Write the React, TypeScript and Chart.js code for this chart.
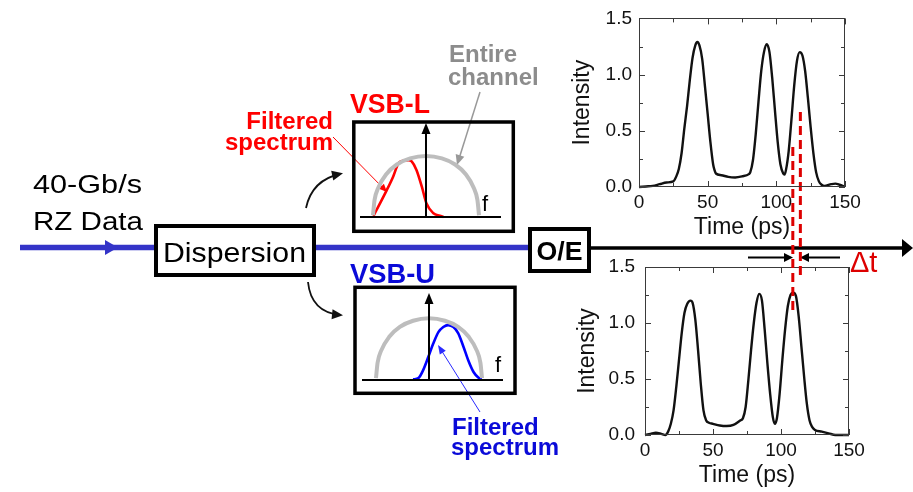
import React, { useEffect, useRef } from "react";
import { Chart, registerables } from "chart.js";

Chart.register(...registerables);

const W = 913;
const H = 492;
const FONT = "'Liberation Sans', Arial, Helvetica, sans-serif";

// Detected intensity after the VSB-L filter (upper trace)
const TIME_VSB_L = [0, 5, 10, 15, 20, 25, 27, 29, 31, 33, 35, 37, 39, 41, 42.5, 44, 46, 48, 50, 52, 54, 55, 56, 60, 65, 70, 75, 80, 81, 83, 85, 87, 89, 91, 93, 95, 97, 99, 101, 103, 105, 106, 107, 109, 111, 113, 115, 117, 119, 121, 123, 125, 127, 129, 131, 133, 135, 140, 143, 146, 150];
const INTENSITY_VSB_L = [0, 0.005, 0.01, 0.025, 0.04, 0.05, 0.09, 0.16, 0.3, 0.52, 0.72, 0.95, 1.15, 1.26, 1.29, 1.26, 1.14, 0.9, 0.65, 0.4, 0.2, 0.15, 0.12, 0.105, 0.09, 0.085, 0.095, 0.115, 0.13, 0.24, 0.47, 0.76, 1.03, 1.2, 1.27, 1.2, 0.97, 0.68, 0.4, 0.2, 0.12, 0.11, 0.15, 0.32, 0.6, 0.9, 1.12, 1.2, 1.17, 1.03, 0.79, 0.53, 0.3, 0.13, 0.05, 0.02, 0.01, 0.025, 0.03, 0.02, 0];

// Detected intensity after the VSB-U filter (lower trace)
const TIME_VSB_U = [0, 4, 8, 12, 15, 17, 19, 21, 23, 25, 27, 29, 31, 33.5, 35, 37, 39, 41, 43, 45, 47, 50, 55, 60, 65, 70, 72, 74, 76, 78, 80, 82, 84, 86, 88, 90, 92, 94, 95.5, 97, 99, 101, 103, 105, 107, 109, 111, 113, 115, 117, 119, 121, 123, 125, 130, 135, 140, 145, 150];
const INTENSITY_VSB_U = [0, 0.01, 0.02, 0.01, 0, 0.03, 0.1, 0.22, 0.43, 0.67, 0.91, 1.09, 1.17, 1.2, 1.18, 1.03, 0.76, 0.46, 0.22, 0.13, 0.11, 0.1, 0.085, 0.08, 0.09, 0.13, 0.15, 0.25, 0.49, 0.76, 1.0, 1.18, 1.26, 1.2, 0.94, 0.64, 0.37, 0.16, 0.1, 0.15, 0.37, 0.67, 0.94, 1.15, 1.25, 1.27, 1.24, 1.06, 0.79, 0.52, 0.28, 0.13, 0.07, 0.045, 0.03, 0.015, 0, 0, 0];

const TIME_TICKS = [0, 50, 100, 150];
const INTENSITY_TICKS = [0, 0.5, 1.0, 1.5];

// Spectrum sketches: entire channel and the two filtered sidebands (normalised f, power)
const CHANNEL_F = [-1.0, -0.97, -0.9, -0.75, -0.55, -0.3, 0, 0.3, 0.55, 0.75, 0.9, 0.97, 1.0];
const CHANNEL_P = [0.03, 0.28, 0.48, 0.7, 0.86, 0.96, 1.0, 0.96, 0.86, 0.7, 0.48, 0.28, 0.03];
const FILTER_L_F = [-0.99, -0.9, -0.74, -0.62, -0.52, -0.43, -0.33, -0.27, -0.18, -0.08, 0.01, 0.14, 0.26, 0.33];
const FILTER_L_P = [0.02, 0.17, 0.44, 0.66, 0.88, 0.92, 0.93, 0.91, 0.77, 0.5, 0.22, 0.06, 0.02, 0.0];
const FILTER_U_F = [-0.3, -0.2, -0.11, -0.01, 0.08, 0.18, 0.27, 0.36, 0.46, 0.55, 0.65, 0.74, 0.84, 0.93, 0.99];
const FILTER_U_P = [0.01, 0.03, 0.16, 0.38, 0.59, 0.78, 0.86, 0.89, 0.86, 0.76, 0.54, 0.32, 0.13, 0.04, 0.01];

// Peak positions (ps, upper time axis) marked by the Δt guides
const SHIFT_MARKS = [112, 117.5];

type Ctx = CanvasRenderingContext2D;

function label(ctx: Ctx, text: string, x: number, y: number, o: { size: number; color: string; bold?: boolean; align?: CanvasTextAlign; width?: number }) {
  ctx.save();
  ctx.font = `${o.bold ? "bold " : ""}${o.size}px ${FONT}`;
  ctx.fillStyle = o.color;
  ctx.textBaseline = "alphabetic";
  ctx.textAlign = o.align || "left";
  ctx.translate(x, y);
  if (o.width) {
    const w = ctx.measureText(text).width;
    ctx.scale(o.width / w, 1);
  }
  ctx.fillText(text, 0, 0);
  ctx.restore();
}

function head(ctx: Ctx, x: number, y: number, angle: number, len: number, half: number) {
  const c = Math.cos(angle), s = Math.sin(angle);
  ctx.beginPath();
  ctx.moveTo(x, y);
  ctx.lineTo(x - len * c + half * s, y - len * s - half * c);
  ctx.lineTo(x - len * c - half * s, y - len * s + half * c);
  ctx.closePath();
  ctx.fill();
}

function pointer(ctx: Ctx, x1: number, y1: number, x2: number, y2: number, color: string, lw: number, len: number, half: number) {
  const a = Math.atan2(y2 - y1, x2 - x1);
  ctx.save();
  ctx.strokeStyle = color;
  ctx.fillStyle = color;
  ctx.lineWidth = lw;
  ctx.beginPath();
  ctx.moveTo(x1, y1);
  ctx.lineTo(x2 - (len - 1) * Math.cos(a), y2 - (len - 1) * Math.sin(a));
  ctx.stroke();
  head(ctx, x2, y2, a, len, half);
  ctx.restore();
}

function curvedArrow(ctx: Ctx, x1: number, y1: number, cx: number, cy: number, x2: number, y2: number) {
  ctx.save();
  ctx.strokeStyle = "#111";
  ctx.fillStyle = "#111";
  ctx.lineWidth = 1.8;
  ctx.beginPath();
  ctx.moveTo(x1, y1);
  ctx.quadraticCurveTo(cx, cy, x2, y2);
  ctx.stroke();
  head(ctx, x2 + 3, y2 + (y2 - cy) * 3 / (x2 - cx), Math.atan2(y2 - cy, x2 - cx), 11, 5);
  ctx.restore();
}

// Transmission-link block diagram and annotations
const linkDiagram = {
  id: "linkDiagram",
  beforeDraw(chart: Chart) {
    const ctx = chart.ctx;
    ctx.save();
    ctx.fillStyle = "#fff";
    ctx.fillRect(0, 0, chart.width, chart.height);

    // optical input path
    ctx.strokeStyle = "#3434c8";
    ctx.lineWidth = 5.5;
    ctx.beginPath();
    ctx.moveTo(20, 247.5);
    ctx.lineTo(156, 247.5);
    ctx.moveTo(314, 247.5);
    ctx.lineTo(530, 247.5);
    ctx.stroke();
    ctx.fillStyle = "#3434c8";
    head(ctx, 118, 247.5, 0, 13, 7.5);

    // Dispersion block
    ctx.fillStyle = "#fff";
    ctx.strokeStyle = "#000";
    ctx.lineWidth = 4;
    ctx.fillRect(156, 226, 158, 49);
    ctx.strokeRect(156, 226, 158, 49);
    label(ctx, "Dispersion", 234.5, 262, { size: 28, color: "#000", align: "center", width: 143 });

    // O/E block and electrical output
    ctx.fillStyle = "#fff";
    ctx.fillRect(530, 229, 59, 42);
    ctx.strokeRect(530, 229, 59, 42);
    label(ctx, "O/E", 559.5, 260, { size: 26, color: "#000", bold: true, align: "center", width: 46 });
    ctx.lineWidth = 3.5;
    ctx.beginPath();
    ctx.moveTo(591, 248);
    ctx.lineTo(905, 248);
    ctx.stroke();
    ctx.fillStyle = "#000";
    head(ctx, 913, 248, 0, 11, 9);

    label(ctx, "40-Gb/s", 33, 193, { size: 26, color: "#000", width: 109 });
    label(ctx, "RZ Data", 33, 230, { size: 26, color: "#000", width: 110 });

    // sideband labels
    label(ctx, "VSB-L", 350, 113, { size: 27, color: "#ff0000", bold: true, width: 80 });
    label(ctx, "Filtered", 333, 129, { size: 24, color: "#ff0000", bold: true, align: "right" });
    label(ctx, "spectrum", 333, 150, { size: 24, color: "#ff0000", bold: true, align: "right" });
    label(ctx, "Entire", 449, 62, { size: 24, color: "#8c8c8c", bold: true });
    label(ctx, "channel", 448, 85, { size: 24, color: "#8c8c8c", bold: true });
    label(ctx, "VSB-U", 350, 283, { size: 27, color: "#0a0ad8", bold: true, width: 85 });
    label(ctx, "Filtered", 452, 435, { size: 24, color: "#0a0ad8", bold: true });
    label(ctx, "spectrum", 451, 455, { size: 24, color: "#0a0ad8", bold: true });

    curvedArrow(ctx, 306, 208, 312, 180, 340, 174);
    curvedArrow(ctx, 308, 282, 311, 312, 340, 315);

    pointer(ctx, 333, 137, 387, 192, "#ff0000", 1, 8, 3.5);
    pointer(ctx, 480, 92, 457, 165, "#999999", 1.5, 10, 4.5);
    pointer(ctx, 480, 412, 438, 345, "#2a2aff", 1, 9, 3.5);

    // Δt indicator
    ctx.fillStyle = "#000";
    ctx.strokeStyle = "#000";
    ctx.lineWidth = 2;
    ctx.beginPath();
    ctx.moveTo(748, 257.5);
    ctx.lineTo(786, 257.5);
    ctx.moveTo(840, 257.5);
    ctx.lineTo(807, 257.5);
    ctx.stroke();
    head(ctx, 793, 257.5, 0, 9, 4.5);
    head(ctx, 800, 257.5, Math.PI, 9, 4.5);
    label(ctx, "\u0394t", 850, 272, { size: 29, color: "#dd0000" });
    ctx.restore();
  },
};

// Frame with inward ticks on all four sides
const axisFrame = {
  id: "axisFrame",
  afterDraw(chart: Chart) {
    const { ctx, chartArea: a } = chart;
    const x = chart.scales.x;
    const y = chart.scales.y;
    ctx.save();
    ctx.strokeStyle = "#3a3a3a";
    ctx.lineWidth = 1;
    ctx.strokeRect(Math.round(a.left) + 0.5, Math.round(a.top) + 0.5, Math.round(a.width) - 1, Math.round(a.height) - 1);
    ctx.beginPath();
    for (let v = 0; v <= 150; v += 25) {
      const px = Math.round(x.getPixelForValue(v)) + 0.5;
      const len = v % 50 === 0 ? 6 : 4;
      ctx.moveTo(px, a.bottom);
      ctx.lineTo(px, a.bottom - len);
      ctx.moveTo(px, a.top);
      ctx.lineTo(px, a.top + len);
    }
    for (let k = 0; k <= 6; k++) {
      const py = Math.round(y.getPixelForValue(k * 0.25)) + 0.5;
      const len = k % 2 === 0 ? 6 : 4;
      ctx.moveTo(a.left, py);
      ctx.lineTo(a.left + len, py);
      ctx.moveTo(a.right, py);
      ctx.lineTo(a.right - len, py);
    }
    ctx.stroke();
    ctx.restore();
  },
};

// Red dashed guides through the shifted peaks
const shiftGuides = {
  id: "shiftGuides",
  afterDraw(chart: Chart) {
    const { ctx } = chart;
    const x = chart.scales.x;
    const spans = [[147, 310], [112, 275]];
    ctx.save();
    ctx.strokeStyle = "#dd0000";
    ctx.lineWidth = 3;
    ctx.setLineDash([9, 5]);
    SHIFT_MARKS.forEach((t, i) => {
      const px = x.getPixelForValue(t);
      ctx.beginPath();
      ctx.moveTo(px, spans[i][0]);
      ctx.lineTo(px, spans[i][1]);
      ctx.stroke();
    });
    ctx.restore();
  },
};

type TraceGeom = { left: number; right: number; top: number; bottom: number; yW: number; xH: number; yPad: number };

function traceChart(canvas: HTMLCanvasElement, time: number[], intensity: number[], g: TraceGeom, extra: any[]) {
  const tickFont = { family: FONT, size: 19 };
  const titleFont = { family: FONT, size: 23 };
  return new Chart(canvas, {
    type: "line",
    data: {
      datasets: [
        {
          data: time.map((t, i) => ({ x: t, y: intensity[i] })),
          borderColor: "#111",
          borderWidth: 2.4,
          pointRadius: 0,
          cubicInterpolationMode: "monotone",
          fill: false,
          clip: 4,
        } as any,
      ],
    },
    options: {
      animation: false,
      responsive: false,
      events: [],
      layout: { padding: { left: g.left - g.yW, right: W - g.right, top: g.top, bottom: H - g.bottom - g.xH } },
      plugins: { legend: { display: false }, tooltip: { enabled: false } },
      scales: {
        x: {
          type: "linear",
          min: 0,
          max: 150,
          grid: { display: false, drawTicks: false },
          border: { display: false },
          afterBuildTicks: (s: any) => {
            s.ticks = TIME_TICKS.map((v) => ({ value: v }));
          },
          afterFit: (s: any) => {
            s.height = g.xH;
          },
          ticks: { font: tickFont, color: "#111", padding: 4, maxRotation: 0, autoSkip: false },
          title: { display: true, text: "Time (ps)", font: titleFont, color: "#111", padding: 0 },
        },
        y: {
          type: "linear",
          min: 0,
          max: 1.5,
          grid: { display: false, drawTicks: false },
          border: { display: false },
          afterBuildTicks: (s: any) => {
            s.ticks = INTENSITY_TICKS.map((v) => ({ value: v }));
          },
          afterFit: (s: any) => {
            s.width = g.yW;
          },
          ticks: { font: tickFont, color: "#111", padding: g.yPad, callback: (v: any) => Number(v).toFixed(1) },
          title: { display: true, text: "Intensity", font: titleFont, color: "#111", padding: 0 },
        },
      },
    } as any,
    plugins: [...extra, axisFrame],
  });
}

type SpecGeom = {
  left: number; right: number; top: number; bottom: number;
  fMin: number; fMax: number; pMax: number;
  box: [number, number, number, number];
  fLabel: [number, number];
};

function spectrumChart(canvas: HTMLCanvasElement, fs: number[], ps: number[], color: string, s: SpecGeom) {
  const frame = {
    id: "spectrumFrame",
    afterDatasetsDraw(chart: Chart) {
      const { ctx, chartArea: a } = chart;
      const x0 = chart.scales.x.getPixelForValue(0);
      const y0 = chart.scales.y.getPixelForValue(0);
      ctx.save();
      ctx.strokeStyle = "#000";
      ctx.fillStyle = "#000";
      ctx.lineWidth = 2;
      ctx.beginPath();
      ctx.moveTo(a.left, y0);
      ctx.lineTo(a.right, y0);
      ctx.moveTo(x0, y0);
      ctx.lineTo(x0, a.top + 9);
      ctx.stroke();
      head(ctx, x0, a.top, -Math.PI / 2, 11, 4.5);
      ctx.lineWidth = 3.5;
      ctx.strokeRect(s.box[0], s.box[1], s.box[2], s.box[3]);
      label(ctx, "f", s.fLabel[0], s.fLabel[1], { size: 22, color: "#000", align: "center" });
      ctx.restore();
    },
  };
  return new Chart(canvas, {
    type: "line",
    data: {
      datasets: [
        {
          data: CHANNEL_F.map((f, i) => ({ x: f, y: CHANNEL_P[i] })),
          borderColor: "#bdbdbd",
          borderWidth: 4,
          pointRadius: 0,
          cubicInterpolationMode: "monotone",
          clip: false,
        } as any,
        {
          data: fs.map((f, i) => ({ x: f, y: ps[i] })),
          borderColor: color,
          borderWidth: 2.6,
          pointRadius: 0,
          cubicInterpolationMode: "monotone",
          clip: false,
        } as any,
      ],
    },
    options: {
      animation: false,
      responsive: false,
      events: [],
      layout: { padding: { left: s.left, right: W - s.right, top: s.top, bottom: H - s.bottom } },
      plugins: { legend: { display: false }, tooltip: { enabled: false } },
      scales: {
        x: { type: "linear", display: false, min: s.fMin, max: s.fMax },
        y: { type: "linear", display: false, min: 0, max: s.pMax },
      },
    } as any,
    plugins: [frame],
  });
}

export default function App() {
  const lowerRef = useRef<HTMLCanvasElement>(null);
  const specLRef = useRef<HTMLCanvasElement>(null);
  const specURef = useRef<HTMLCanvasElement>(null);
  const upperRef = useRef<HTMLCanvasElement>(null);

  useEffect(() => {
    const charts: Chart[] = [];
    charts.push(
      traceChart(lowerRef.current!, TIME_VSB_U, INTENSITY_VSB_U,
        { left: 645, right: 849, top: 267, bottom: 435, yW: 71.3, xH: 54.8, yPad: 10 }, [linkDiagram])
    );
    charts.push(
      spectrumChart(specLRef.current!, FILTER_L_F, FILTER_L_P, "#ff0000", {
        left: 360, right: 501, top: 123, bottom: 217, fMin: -1.245, fMax: 1.415, pMax: 1.54,
        box: [353.8, 122, 159.5, 109.3], fLabel: [485, 211],
      })
    );
    charts.push(
      spectrumChart(specURef.current!, FILTER_U_F, FILTER_U_P, "#0000ff", {
        left: 362, right: 503, top: 293, bottom: 380, fMin: -1.264, fMax: 1.396, pMax: 1.41,
        box: [355, 287.3, 160, 106], fLabel: [498, 372],
      })
    );
    charts.push(
      traceChart(upperRef.current!, TIME_VSB_L, INTENSITY_VSB_L,
        { left: 639, right: 845, top: 16, bottom: 187, yW: 69.8, xH: 54.8, yPad: 7 }, [shiftGuides])
    );
    return () => charts.forEach((c) => c.destroy());
  }, []);

  const layer: React.CSSProperties = { position: "absolute", left: 0, top: 0, width: W, height: H };
  return (
    <div style={{ position: "fixed", left: 0, top: 0, width: W, height: H, background: "#fff", overflow: "hidden" }}>
      <canvas ref={lowerRef} width={W} height={H} style={layer} />
      <canvas ref={specLRef} width={W} height={H} style={layer} />
      <canvas ref={specURef} width={W} height={H} style={layer} />
      <canvas ref={upperRef} width={W} height={H} style={layer} />
    </div>
  );
}
